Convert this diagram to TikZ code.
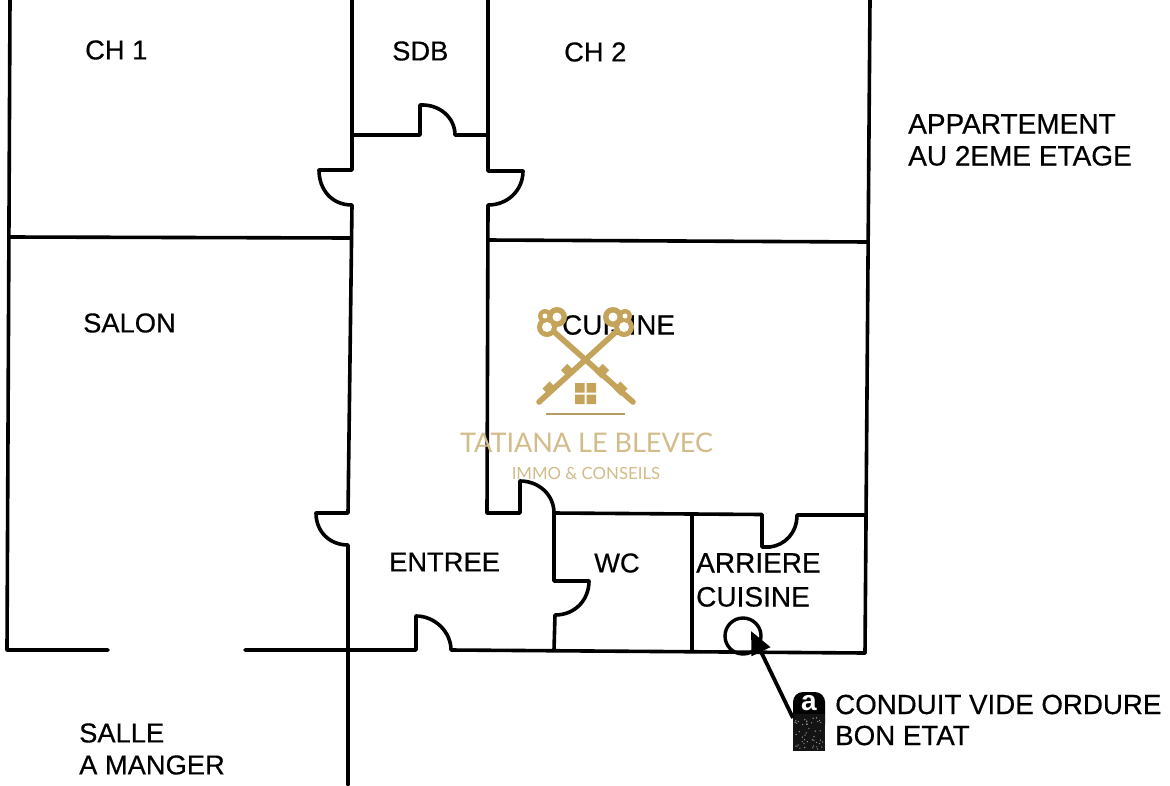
\documentclass[tikz,border=0pt]{standalone}
\usepackage{fontspec}
\setmainfont[FakeBold=0.5]{Liberation Sans}
\newfontfamily\logofont{Lato}
\newfontfamily\markfont{Liberation Sans}
\usetikzlibrary{arrows.meta}
\definecolor{gold}{HTML}{C4A35A}
\definecolor{goldtxt}{HTML}{D2BC8A}
\tikzset{
  wall/.style={line width=3.6pt,line cap=round,line join=round,black},
  lab/.style={inner sep=0pt,anchor=west,align=left,font=\fontsize{27.3}{32}\selectfont,text=black},
  keyline/.style={line width=5.6pt,gold,line cap=round},
  keyhole/.style={fill=white,draw=none},
}
\begin{document}
\begin{tikzpicture}[x=1pt,y=-1pt]
\useasboundingbox (0,0) rectangle (1170,785);
\fill[white] (0,0) rectangle (1170,785);
% outer walls and rooms
\draw[wall] (10,0) -- (7,650) -- (108,650);
\draw[wall] (10,237) -- (351,238);
\draw[wall] (352,0) -- (352,170) -- (319,170) .. controls (319,190) and (332,205) .. (352,205) -- (348,513) -- (316,513) .. controls (316,532) and (330,545) .. (348,545) -- (348,785);
\draw[wall] (352,135) -- (420,135) -- (420,105) .. controls (440,104) and (455,118) .. (455,135) -- (488,135);
\draw[wall] (488,0) -- (488,171) -- (523,171) .. controls (523,190) and (508,205) .. (488,205) -- (487,513) -- (520,513) -- (520,481) .. controls (539,481) and (554,495) .. (554,513) -- (762,514.5) -- (762,547) -- (770,547) .. controls (785,545) and (797,533) .. (797,515) -- (866,515);
\draw[wall] (554,513) -- (554,581) -- (589,581) .. controls (589,600) and (575,615) .. (555,615) -- (554,650);
\draw[wall] (488,240) -- (868,242);
\draw[wall] (870,0) -- (865,653);
\draw[wall] (245,650) -- (416,650) -- (416,616) .. controls (435,616) and (451,632) .. (451,650) -- (865,653);
\draw[wall] (692,515) -- (692,651);
% labels
\node[lab] (ch1) at (85,50) {CH 1};
\node[lab] (sdb) at (392,51) {SDB};
\node[lab] (ch2) at (564,52) {CH 2};
\node[lab,font=\fontsize{28}{32}\selectfont] (appt) at (908,140) {APPARTEMENT\\AU 2EME ETAGE};
\node[lab] (salon) at (83,323) {SALON};
\node[lab,font=\fontsize{27.8}{32}\selectfont] (cuisine) at (562,325) {CUISINE};
\node[lab] (entree) at (389,562) {ENTREE};
\node[lab] (wc) at (594,563) {WC};
\node[lab,font=\fontsize{28}{34}\selectfont] (arr) at (696,580) {ARRIERE\\CUISINE};
\node[lab] (sam) at (79,749) {SALLE\\A MANGER};
\node[lab,font=\fontsize{27.7}{31}\selectfont] (cond) at (835,720) {CONDUIT VIDE ORDURE\\BON ETAT};
% refuse chute and marker
\node[circle,draw=black,line width=3.4pt,minimum size=36pt,inner sep=0pt] (chute) at (743,636) {};
\fill[black,rounded corners=10pt] (793,692) rectangle (825,735);
\fill[black!92] (793,714) rectangle (825,751);
\pgfmathsetseed{7}
\foreach \i in {1,...,45}{
  \pgfmathsetmacro{\dx}{795+rnd*28}
  \pgfmathsetmacro{\dy}{716+rnd*33}
  \fill[black!40] (\dx,\dy) circle (0.7pt);
}
\node[inner sep=0pt,text=white,font=\markfont\bfseries\fontsize{28}{28}\selectfont] (marker) at (809,703) {a};
\coordinate (tail) at (793,718);
\coordinate (tip) at (751,631);
\draw[line width=3.8pt,-{Triangle[length=23pt,width=20pt]},black] (tail) -- (tip);
% logo: two crossed keys
\draw[keyline] (552,330) -- (633,402);
\draw[keyline] (618,330) -- (539,402);
\draw[keyline,line width=9pt,line cap=butt] (564,367) -- (572,375) (606,367) -- (598,375);
\draw[keyline,line width=10pt,line cap=butt] (546,385) -- (553,392) (624,385) -- (617,392);
\fill[gold] (547,327) circle (10pt) (557,317) circle (10pt) (545,316) circle (7pt)
            (624,327) circle (10pt) (613,317) circle (10pt) (625,316) circle (7pt);
\fill[keyhole] (547,327) circle (5pt) (557,317) circle (4.5pt) (545,316) circle (2.5pt)
               (624,327) circle (5pt) (613,317) circle (4.5pt) (625,316) circle (2.5pt);
\fill[gold] (575,383) rectangle (584.5,392.5) (586.5,383) rectangle (596,392.5)
            (575,394.5) rectangle (584.5,404) (586.5,394.5) rectangle (596,404);
\draw[line width=2.2pt,gold!80!gray] (546,414) -- (625,414);
\node[inner sep=0pt,text=goldtxt,font=\logofont\fontsize{27}{27}\selectfont] (logoa) at (586.5,443) {TATIANA LE BLEVEC};
\node[inner sep=0pt,text=goldtxt,font=\logofont\fontsize{16.8}{17}\selectfont] (logob) at (586,473) {IMMO \& CONSEILS};
\end{tikzpicture}
\end{document}
